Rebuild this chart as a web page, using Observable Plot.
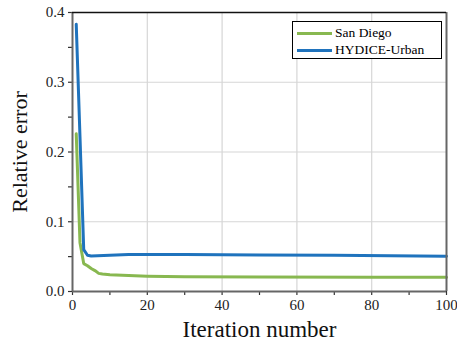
<!DOCTYPE html>
<html><head><meta charset="utf-8">
<script src="https://cdn.jsdelivr.net/npm/d3@7"></script>
<script src="https://cdn.jsdelivr.net/npm/@observablehq/plot@0.6"></script>
<style>
body{margin:0;background:#fff;}
#wrap{position:relative;width:457px;height:352px;font-family:"Liberation Serif","Times New Roman",serif;}
#wrap svg, #wrap svg text{font-family:"Liberation Serif","Times New Roman",serif !important;}
#legend{position:absolute;left:292px;top:21px;width:150px;height:38px;border:1px solid #000;background:#fff;box-sizing:border-box;font-size:13.5px;}
.row{position:absolute;left:4px;display:flex;align-items:center;height:16px;}
.sw{width:35px;height:3px;margin-right:3px;}
</style></head>
<body><div id="wrap"><div id="legend"></div></div>
<script>
const seriesNames = ["San Diego", "HYDICE-Urban"];
const seriesColors = ["#88b850", "#1f73bd"];
const sdX = [1, 2, 3, 4, 5, 6, 7, 8, 10, 15, 20, 30, 50, 80, 100];
const sdY = [0.226, 0.07, 0.040, 0.037, 0.033, 0.030, 0.026, 0.025, 0.024, 0.023, 0.022, 0.021, 0.0208, 0.0206, 0.0205];
const huX = [1, 2, 3, 4, 5, 10, 15, 30, 50, 70, 100];
const huY = [0.383, 0.222, 0.060, 0.052, 0.051, 0.052, 0.053, 0.053, 0.0525, 0.052, 0.0505];
const xTicks = [0, 10, 20, 30, 40, 50, 60, 70, 80, 90, 100];
const yTicks = [0, 0.05, 0.1, 0.15, 0.2, 0.25, 0.3, 0.35, 0.4];
const xGrid = [20, 40, 60, 80];
const yGrid = [0.1, 0.2, 0.3];

const data = [
  ...sdX.map((x, i) => ({x, y: sdY[i], s: seriesNames[0]})),
  ...huX.map((x, i) => ({x, y: huY[i], s: seriesNames[1]}))
];

const chart = Plot.plot({
  width: 457, height: 352,
  marginLeft: 72, marginRight: 11, marginTop: 12, marginBottom: 61,
  style: {fontSize: "15px", color: "#222", background: "white"},
  x: {domain: [0, 100], label: null},
  y: {domain: [0, 0.4], label: null},
  color: {domain: seriesNames, range: seriesColors},
  marks: [
    Plot.ruleX(xGrid, {stroke: "#d6d6d6", strokeWidth: 1.2}),
    Plot.ruleY(yGrid, {stroke: "#d6d6d6", strokeWidth: 1.2}),
    Plot.axisX({ticks: xTicks, tickFormat: d => d % 20 === 0 ? String(d) : "", tickSize: 4, tickPadding: 4, stroke: "#333", strokeWidth: 1.2, fontSize: 15, color: "#222"}),
    Plot.axisY({ticks: yTicks, tickFormat: d => Math.abs(d*10 - Math.round(d*10)) < 1e-6 ? d.toFixed(1) : "", tickSize: 4, tickPadding: 4, stroke: "#333", strokeWidth: 1.2, fontSize: 15, color: "#222"}),
    Plot.line(data, {x: "x", y: "y", z: "s", stroke: "s", strokeWidth: 3, strokeLinejoin: "round"}),
    Plot.ruleY([0], {stroke: "#666", strokeWidth: 2}),
    Plot.ruleX([0], {stroke: "#666", strokeWidth: 2}),
    Plot.ruleX([100], {stroke: "#666", strokeWidth: 2}),
    Plot.ruleY([0.4], {stroke: "#111", strokeWidth: 1.5}),
    Plot.text(["Iteration number"], {frameAnchor: "bottom", dy: 45, fontSize: 23, fill: "#111"}),
    Plot.text(["Relative error"], {frameAnchor: "left", textAnchor: "middle", dx: -53, rotate: -90, fontSize: 22, fill: "#111"})
  ]
});
document.getElementById("wrap").prepend(chart);
chart.style.position = "absolute"; chart.style.left = "0"; chart.style.top = "0";

const leg = document.getElementById("legend");
seriesNames.forEach((n, i) => {
  const r = document.createElement("div");
  r.className = "row";
  r.style.top = (3 + i * 17) + "px";
  r.innerHTML = `<span class="sw" style="background:${seriesColors[i]}"></span><span>${n}</span>`;
  leg.appendChild(r);
});
</script></body></html>
